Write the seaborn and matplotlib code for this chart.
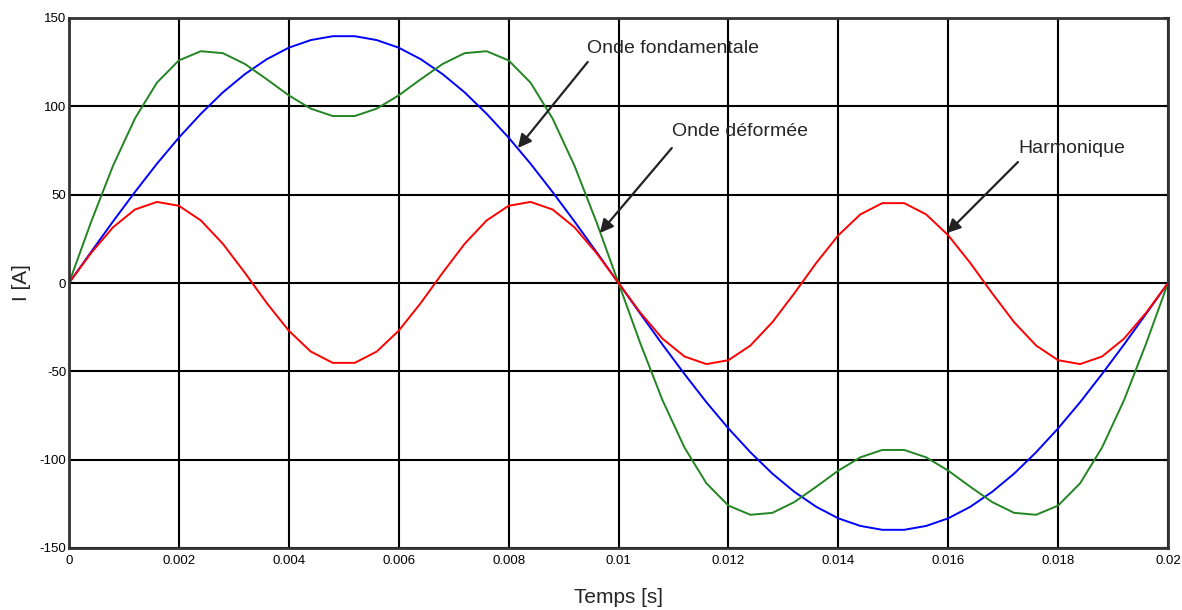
import matplotlib
matplotlib.use("Agg")
import matplotlib.pyplot as plt
import seaborn as sns
import numpy as np
import pandas as pd

time_s = [round(0.0004 * k, 4) for k in range(51)]

fundamental_half = [0, 17.5, 34.8, 51.5, 67.5, 82.3, 95.8, 107.9, 118.2, 126.7, 133.2,
                    137.5, 139.7, 139.7, 137.5, 133.2, 126.7, 118.2, 107.9, 95.8, 82.3,
                    67.5, 51.5, 34.8, 17.5]
harmonic_half = [0, 16.9, 31.5, 41.6, 45.9, 43.7, 35.4, 22.2, 5.8, -11.4, -27.0,
                 -38.8, -45.2, -45.2, -38.8, -27.0, -11.4, 5.8, 22.2, 35.4, 43.7,
                 45.9, 41.6, 31.5, 16.9]
distorted_half = [0, 34.4, 66.3, 93.1, 113.4, 126.0, 131.2, 130.1, 124.0, 115.3, 106.2,
                  98.7, 94.5, 94.5, 98.7, 106.2, 115.3, 124.0, 130.1, 131.2, 126.0,
                  113.4, 93.1, 66.3, 34.4]

fundamental = fundamental_half + [-v for v in fundamental_half] + [0]
harmonic = harmonic_half + [-v for v in harmonic_half] + [0]
distorted = distorted_half + [-v for v in distorted_half] + [0]

x_ticks = [0, 0.002, 0.004, 0.006, 0.008, 0.01, 0.012, 0.014, 0.016, 0.018, 0.02]
x_tick_labels = ["0", "0.002", "0.004", "0.006", "0.008", "0.01", "0.012", "0.014",
                 "0.016", "0.018", "0.02"]
y_ticks = [-150, -100, -50, 0, 50, 100, 150]
y_tick_labels = ["-150", "-100", "-50", "0", "50", "100", "150"]

labels = ["Onde fondamentale", "Onde déformée", "Harmonique"]

# ---- style ----
sns.set_style("white")
plt.rcParams["font.family"] = ["Liberation Sans", "DejaVu Sans"]

fig = plt.figure(figsize=(11.82, 6.10), dpi=100)
ax = fig.add_axes([69 / 1182, 1 - 548 / 610, (1168 - 69) / 1182, (548 - 18) / 610])

sns.lineplot(x=time_s, y=fundamental, ax=ax, color="#0000ff", lw=1.4, sort=False,
             estimator=None)
sns.lineplot(x=time_s, y=distorted, ax=ax, color="#228522", lw=1.4, sort=False,
             estimator=None)
sns.lineplot(x=time_s, y=harmonic, ax=ax, color="#ff0000", lw=1.4, sort=False,
             estimator=None)

ax.set_xlim(0, 0.02)
ax.set_ylim(-150, 150)
ax.set_xticks(x_ticks)
ax.set_xticklabels(x_tick_labels)
ax.set_yticks(y_ticks)
ax.set_yticklabels(y_tick_labels)
ax.grid(True, color="black", lw=1.5)
ax.set_axisbelow(True)
for s in ax.spines.values():
    s.set_color("#333333")
    s.set_linewidth(2)
ax.tick_params(axis="both", direction="in", length=3, width=1.5, labelsize=9.5,
               colors="black", pad=5, top=True, right=True)
ax.tick_params(axis="y", pad=2)

ax.set_xlabel("Temps [s]", fontsize=15)
ax.xaxis.set_label_coords(0.5, -0.075)
ax.set_ylabel("I [A]", fontsize=15)
ax.yaxis.set_label_coords(-0.035, 0.5)

arrow = dict(arrowstyle="-|>", color="#222222", lw=1.6, mutation_scale=20,
             shrinkA=0, shrinkB=0)
ax.annotate("", xy=(0.00817, 76.4), xytext=(0.00944, 125.1), arrowprops=arrow)
ax.annotate("", xy=(0.00966, 28.3), xytext=(0.01097, 76.4), arrowprops=arrow)
ax.annotate("", xy=(0.01598, 28.3), xytext=(0.01727, 68.5), arrowprops=arrow)

ax.text(0.00943, 133, labels[0], fontsize=14, va="center", ha="left")
ax.text(0.01097, 85.5, labels[1], fontsize=14, va="center", ha="left")
ax.text(0.01727, 76.4, labels[2], fontsize=14, va="center", ha="left")

fig.savefig("out.png", dpi=100)
